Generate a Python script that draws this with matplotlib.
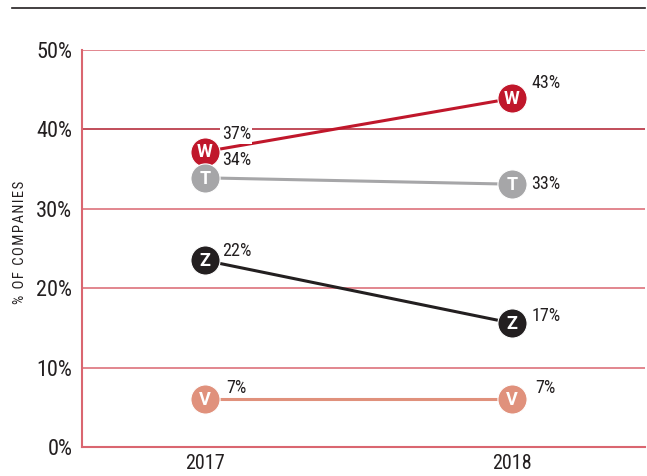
import matplotlib.pyplot as plt
from matplotlib.lines import Line2D

years = ["2017", "2018"]
series = ["W", "T", "Z", "V"]
# positions where the markers sit
w_vals = [37.2, 43.9]
t_vals = [33.9, 33.1]
z_vals = [23.5, 15.6]
v_vals = [6.0, 6.0]
# printed labels
w_labels = ["37%", "43%"]
t_labels = ["34%", "33%"]
z_labels = ["22%", "17%"]
v_labels = ["7%", "7%"]
y_ticks = [0, 10, 20, 30, 40, 50]

colors = {"W": "#c0172b", "T": "#a6a6a8", "Z": "#231f20", "V": "#e0917c"}

plt.rcParams['font.family'] = ["Roboto Condensed", "DejaVu Sans"]

fig = plt.figure(figsize=(6.47, 4.76), dpi=100)
ax = fig.add_axes([82 / 647, 1 - 447 / 476, 563 / 647, 397 / 476])

x = [0, 1]
ax.set_xlim(-123 / 307, 440 / 307)
ax.set_ylim(0, 50)

for yt in y_ticks[1:]:
    c = "#b01c2e" if yt == 40 else "#da6670"
    ax.axhline(yt, color=c, lw=1.1, zorder=1)

for s in ["top", "right"]:
    ax.spines[s].set_visible(False)
for s in ["left", "bottom"]:
    ax.spines[s].set_color("#da6670")
    ax.spines[s].set_linewidth(1.5)

ax.set_yticks(y_ticks)
ax.set_yticklabels([f"{v}%" for v in y_ticks], fontsize=16, color="#231f20")
ax.set_xticks(x)
ax.set_xticklabels(years, fontsize=14.5, color="#231f20")
ax.tick_params(length=0)
ax.tick_params(axis="y", pad=7)
ax.tick_params(axis="x", pad=5)
ax.set_ylabel("\u200a".join("% OF COMPANIES"), fontsize=10.5, color="#231f20")
ax.yaxis.set_label_coords(-55 / 563, 0.515)

data = {"W": (w_vals, w_labels), "T": (t_vals, t_labels),
        "Z": (z_vals, z_labels), "V": (v_vals, v_labels)}
# label offsets in points (dx, dy) for each year
offs = {"W": [(12, 13), (14, 11)], "T": [(12, 13), (14, 0)],
        "Z": [(12, 7), (14, 5)], "V": [(15, 8), (17, 8)]}

for s in series:
    vals, labs = data[s]
    ax.plot(x, vals, color=colors[s], lw=2.2, zorder=3)
    ax.plot(x, vals, "o", ms=21, color=colors[s], mec="white", mew=0.8, zorder=4)
    for i in range(2):
        ax.text(x[i], vals[i] - 0.1, s, color="white", fontsize=13, fontweight="bold",
                family="Roboto", ha="center", va="center", zorder=5)
        dx, dy = offs[s][i]
        kw = {}
        if s == "W" and i == 0:
            kw["bbox"] = dict(fc="white", ec="none", pad=1)
        ax.annotate(labs[i], (x[i], vals[i]), xytext=(dx, dy), textcoords="offset points",
                    fontsize=13, color="#231f20", ha="left", va="center", zorder=6, **kw)

fig.add_artist(Line2D([12 / 647, 645 / 647], [1 - 8 / 476, 1 - 8 / 476],
                      color="#231f20", lw=1.2))

fig.savefig("out.png", dpi=100)
